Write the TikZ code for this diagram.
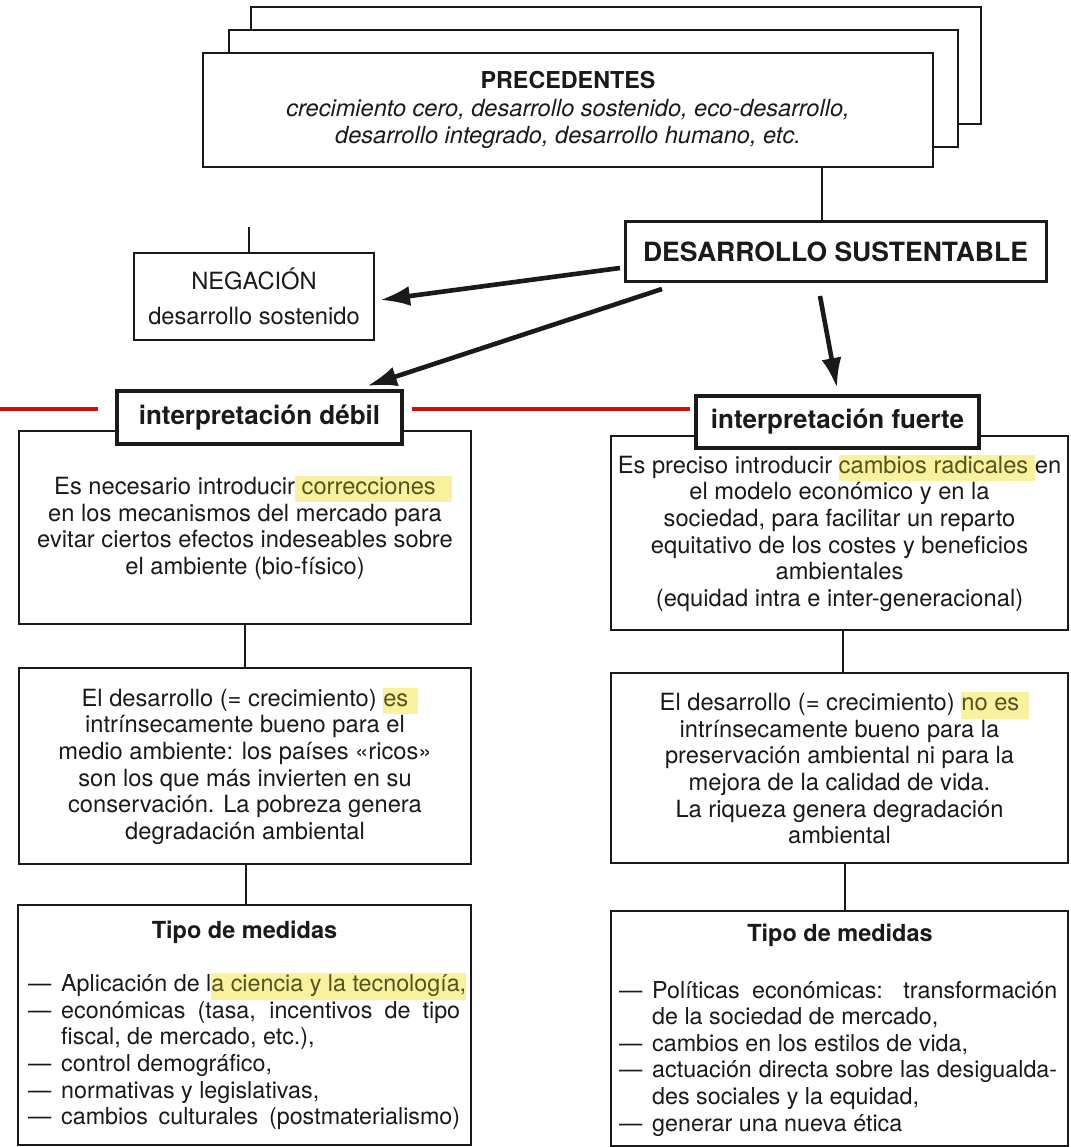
\documentclass[tikz,border=0pt]{standalone}
\usepackage{fontspec}
\setmainfont{TeX Gyre Heros}
\usetikzlibrary{arrows.meta}
\definecolor{ink}{HTML}{1A1A1A}
\definecolor{hlc}{HTML}{F8F29E}
\definecolor{hltext}{HTML}{55531F}
\definecolor{redl}{HTML}{CC1010}
\newcommand\hlmark[1]{{\setlength\fboxsep{0pt}\colorbox{hlc}{\color{hltext}\strut #1}}}
\newcommand\lidash{\makebox[33pt][l]{—}}
\newcommand\ligap{\hspace*{33pt}}
\tikzset{
  cbox/.style={draw=ink, line width=1.9pt, fill=white, inner sep=0pt, text=ink, align=center},
  bodytxt/.style={font=\fontsize{23.7}{26.6}\selectfont},
  labbox/.style={draw=ink, line width=3.3pt, fill=white, inner sep=0pt, text=ink, font=\bfseries\fontsize{26}{30}\selectfont},
  connline/.style={draw=ink, line width=1.9pt},
  bigarrow/.style={draw=ink, line width=4.6pt, -{Latex[length=30pt,width=20pt]}},
  redline/.style={draw=redl, line width=3.2pt},
  listtxt/.style={font=\fontsize{23.3}{26.6}\selectfont, text=ink, align=left, inner sep=0pt},
  headtxt/.style={font=\bfseries\fontsize{23.5}{26.6}\selectfont, text=ink, inner sep=0pt},
}
\begin{document}
\begin{tikzpicture}[x=1pt,y=-1pt]
\useasboundingbox (0,0) rectangle (1070,1147);
\fill[white] (0,0) rectangle (1070,1147);

% stacked precedent boxes
\node[cbox, minimum width=730, minimum height=117] (back) at (616,65.5) {};
\node[cbox, minimum width=729, minimum height=117] (mid) at (593.5,88.5) {};
\node[cbox, minimum width=730, minimum height=114, font=\fontsize{23.6}{27.5}\selectfont] (front) at (568,110)
  {{\bfseries\fontsize{23.3}{27.5}\selectfont PRECEDENTES}\\
   \itshape crecimiento cero, desarrollo sostenido, eco-desarrollo,\\
   \itshape desarrollo integrado, desarrollo humano, etc.};

% desarrollo sustentable
\node[labbox, line width=3pt, minimum width=421, minimum height=60, font=\bfseries\fontsize{26.5}{30}\selectfont] (ds) at (835.5,252) {DESARROLLO SUSTENTABLE};

% negacion
\node[cbox, bodytxt, minimum width=240, minimum height=87] (neg) at (254,296.5)
  {NEGACIÓN\\[9pt]desarrollo sostenido};
\coordinate (negstub) at (249,227);

% left column boxes
\node[cbox, bodytxt, minimum width=452, minimum height=193] (d1) at (245,527.5)
  {Es necesario introducir\hlmark{\ correcciones}\rlap{\hlmark{\hspace{16pt}}}\\
   en los mecanismos del mercado para\\
   evitar ciertos efectos indeseables sobre\\
   el ambiente (bio-físico)};
\node[cbox, bodytxt, minimum width=452, minimum height=196] (d2) at (245,766)
  {El desarrollo (= crecimiento) \hlmark{es}\rlap{\hlmark{\hspace{10pt}}}\\
   intrínsecamente bueno para el\\
   medio ambiente: los países «ricos»\\
   son los que más invierten en su\\
   conservación. La pobreza genera\\
   degradación ambiental};
\node[cbox, minimum width=453, minimum height=240] (d3) at (244.5,1025) {};
\node[headtxt] (d3h) at (244.5,932) {Tipo de medidas};
\node[listtxt, anchor=west] (d3l) at (28,1051.5)
  {\lidash Aplicación de l\hlmark{a ciencia y la tecnología,}\\
   \lidash\makebox[399pt][s]{económicas (tasa, incentivos de tipo}\\
   \ligap fiscal, de mercado, etc.),\\
   \lidash control demográfico,\\
   \lidash normativas y legislativas,\\
   \lidash\makebox[399pt][s]{cambios culturales (postmaterialismo)}};

% right column boxes
\node[cbox, bodytxt, minimum width=457, minimum height=194] (f1) at (839.5,533)
  {Es preciso introducir \hlmark{cambios radicales }en\\
   el modelo económico y en la\\
   sociedad, para facilitar un reparto\\
   equitativo de los costes y beneficios\\
   ambientales\\
   (equidad intra e inter-generacional)};
\node[cbox, bodytxt, minimum width=457, minimum height=190] (f2) at (839.5,768)
  {El desarrollo (= crecimiento) \hlmark{no es}\rlap{\hlmark{\hspace{10pt}}}\\
   intrínsecamente bueno para la\\
   preservación ambiental ni para la\\
   mejora de la calidad de vida.\\
   La riqueza genera degradación\\
   ambiental};
\node[cbox, minimum width=457, minimum height=235] (f3) at (839.5,1028.5) {};
\node[headtxt] (f3h) at (840,935) {Tipo de medidas};
\node[listtxt, anchor=west] (f3l) at (619,1058.5)
  {\lidash\makebox[405pt][s]{Políticas económicas: transformación}\\
   \ligap de la sociedad de mercado,\\
   \lidash cambios en los estilos de vida,\\
   \lidash\makebox[405pt][s]{actuación directa sobre las desigualda-}\\
   \ligap des sociales y la equidad,\\
   \lidash generar una nueva ética};

% interpretation labels (drawn over box tops)
\node[labbox, minimum width=285, minimum height=53] (dlab) at (259.5,417.5) {interpretación débil};
\node[labbox, minimum width=283, minimum height=52] (flab) at (837.5,422) {interpretación fuerte};

% connectors
\draw[connline] (front.south -| 822,0) -- (ds.north -| 822,0);
\draw[connline] (negstub) -- (negstub |- neg.north);
\draw[connline] (d1.south) -- (d2.north);
\draw[connline] (d2.south -| 246,0) -- (d3.north -| 246,0);
\draw[connline] (f1.south -| 843,0) -- (f2.north -| 843,0);
\draw[connline] (f2.south -| 845,0) -- (f3.north -| 845,0);

% arrows
\coordinate (a1s) at (620,268);
\coordinate (a1e) at (380,300);
\coordinate (a2s) at (662,289);
\coordinate (a2e) at (367,386);
\coordinate (a3s) at (820,296);
\coordinate (a3e) at (837,388);
\draw[bigarrow] (a1s) -- (a1e);
\draw[bigarrow] (a2s) -- (a2e);
\draw[bigarrow] (a3s) -- (a3e);

% red marks
\coordinate (r1a) at (0,409);
\coordinate (r1b) at (98,409);
\coordinate (r2a) at (412,409);
\coordinate (r2b) at (690,409);
\draw[redline] (r1a) -- (r1b);
\draw[redline] (r2a) -- (r2b);
\end{tikzpicture}
\end{document}
